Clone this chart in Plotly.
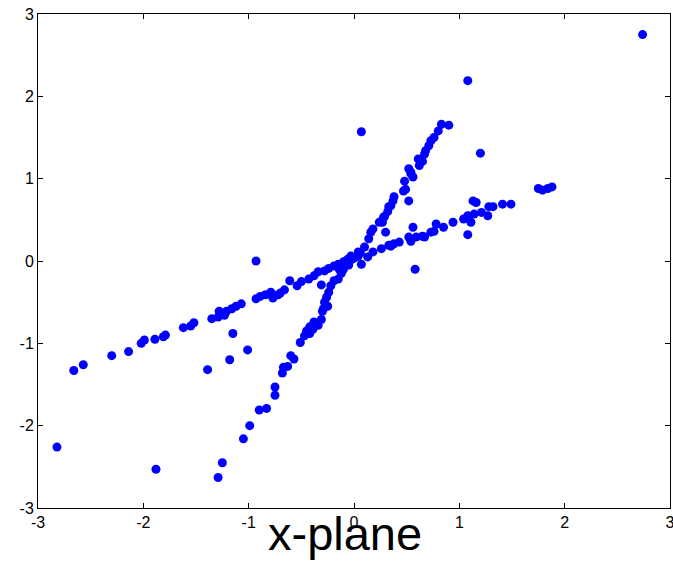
import plotly.graph_objects as go

# Shallow branch (slope ~0.5)
shallow_x = [-2.66, -2.57, -2.30, -2.14, -2.02, -1.99, -1.89, -1.81, -1.79, -1.62, -1.55, -1.52,
             -1.35, -1.29, -1.28, -1.23, -1.21, -1.16, -1.12, -1.07, -0.93, -0.89, -0.84, -0.79,
             -0.77, -0.72, -0.70, -0.66, -0.61, -0.54, -0.50, -0.43, -0.38, -0.34, -0.28, -0.24,
             -0.19, -0.15, -0.10, -0.06, -0.01,
             0.07, 0.13, 0.18, 0.26, 0.35, 0.43, 0.38, 0.33, 0.52, 0.54, 0.59, 0.65, 0.67, 0.73,
             0.76, 0.78, 0.85, 0.94, 1.04, 1.08, 1.11, 1.14, 1.21, 1.27, 1.28, 1.32, 1.13, 1.16,
             1.41, 1.49, 1.75, 1.79, 1.84, 1.88]
shallow_y = [-1.33, -1.26, -1.15, -1.10, -1.00, -0.96, -0.95, -0.92, -0.90, -0.81, -0.79, -0.75,
             -0.70, -0.68, -0.61, -0.66, -0.61, -0.58, -0.55, -0.52, -0.46, -0.43, -0.41, -0.38,
             -0.45, -0.41, -0.39, -0.35, -0.24, -0.30, -0.25, -0.22, -0.18, -0.13, -0.12, -0.09,
             -0.06, -0.04, -0.01, 0.02, 0.03,
             -0.04, 0.05, 0.11, 0.15, 0.18, 0.23, 0.21, 0.19, 0.29, 0.24, 0.29, 0.30, 0.29, 0.35,
             0.36, 0.45, 0.41, 0.47, 0.51, 0.55, 0.47, 0.57, 0.59, 0.55, 0.66, 0.66, 0.73, 0.71,
             0.69, 0.69, 0.88, 0.86, 0.88, 0.90]

# Steep branch (slope ~1.5)
steep_x = [-1.29, -1.25, -1.05, -0.99, -0.90, -0.83, -0.75, -0.75, -0.68, -0.67, -0.63, -0.60,
           -0.57, -0.51, -0.47, -0.45, -0.42, -0.42, -0.39, -0.38, -0.34, -0.31, -0.30, -0.29,
           -0.25, -0.28, -0.26, -0.24, -0.22, -0.19, -0.15, -0.12, -0.10, -0.05, -0.02, 0.02,
           0.06, -0.14, -0.09, -0.05, 0.00, 0.04,
           -0.08, -0.03, 0.04, 0.10, 0.14, 0.16, 0.18, 0.24, 0.28, 0.32, 0.35, 0.37, 0.38, 0.47,
           0.49, 0.48, 0.52, 0.54, 0.56, 0.61, 0.62, 0.65, 0.67, 0.68, 0.71, 0.73, 0.76, 0.80,
           0.83, 0.90, 0.27, 0.29, 0.33, 0.54]
steep_y = [-2.63, -2.45, -2.16, -2.00, -1.81, -1.79, -1.63, -1.53, -1.36, -1.29, -1.28, -1.15,
           -1.19, -0.99, -0.91, -0.85, -0.80, -0.88, -0.83, -0.74, -0.78, -0.71, -0.61, -0.58,
           -0.55, -0.50, -0.44, -0.38, -0.30, -0.24, -0.22, -0.15, -0.10, -0.05, 0.02, 0.05,
           0.10, -0.10, -0.05, 0.00, 0.04, 0.06,
           -0.01, 0.06, 0.11, 0.17, 0.27, 0.35, 0.39, 0.47, 0.53, 0.60, 0.67, 0.73, 0.78, 0.85,
           0.87, 0.97, 1.12, 1.06, 1.02, 1.24, 1.16, 1.21, 1.30, 1.34, 1.40, 1.46, 1.50, 1.58,
           1.66, 1.65, 0.47, 0.54, 0.66, 1.08]

# Scattered outliers
out_x = [2.74, 1.08, 0.07, 1.20, -0.93, 0.58, -2.82, -1.88, -1.39, -1.15, -1.18, -1.01,
         0.30, 0.52, 0.56, 1.08, -0.31]
out_y = [2.75, 2.19, 1.57, 1.31, 0.00, -0.10, -2.26, -2.53, -1.32, -0.88, -1.20, -1.08,
         0.35, 0.73, 0.41, 0.32, -0.29]

tick_vals = [-3, -2, -1, 0, 1, 2, 3]
tick_text = ["-3", "-2", "-1", "0", "1", "2", "3"]
x_label = "x-plane"

xs = shallow_x + steep_x + out_x
ys = shallow_y + steep_y + out_y

fig = go.Figure()
fig.add_trace(go.Scatter(
    x=xs, y=ys, mode="markers",
    marker=dict(color="rgb(0,0,255)", size=9, line=dict(width=0)),
    showlegend=False, hoverinfo="skip",
))

font_family = "Liberation Sans, Arial, sans-serif"
axis_common = dict(
    range=[-3, 3], tickvals=tick_vals, ticktext=tick_text,
    showgrid=False, zeroline=False, automargin=False,
    showline=True, linecolor="black", linewidth=1, mirror="ticks",
    ticks="inside", ticklen=5, tickcolor="black", tickwidth=1,
    tickfont=dict(family=font_family, size=16, color="black"),
    ticklabeloverflow="allow",
)
fig.update_xaxes(**axis_common)
fig.update_yaxes(**axis_common)

fig.add_annotation(
    text=x_label, xref="paper", yref="paper", x=0.486, y=-0.0526,
    xanchor="center", yanchor="middle", showarrow=False,
    font=dict(family=font_family, size=47, color="black"),
)

fig.update_layout(
    width=673, height=563,
    margin=dict(l=38, r=3, t=14, b=55, autoexpand=False),
    plot_bgcolor="white", paper_bgcolor="white",
)

fig.write_html(
    "out.html",
    config={"displayModeBar": False},
    post_script="document.body.style.margin='0';document.body.style.overflow='hidden';",
)
